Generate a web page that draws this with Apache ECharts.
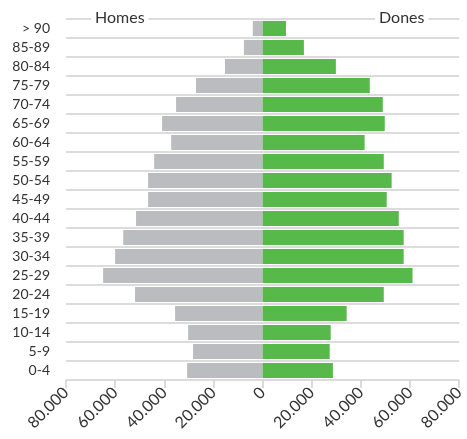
<!DOCTYPE html>
<html>
<head>
<meta charset="utf-8">
<script src="https://cdn.jsdelivr.net/npm/echarts@6/dist/echarts.min.js"></script>
<style>
  html, body { margin: 0; padding: 0; background: #fff; }
  #chart { width: 467px; height: 439px; }
</style>
</head>
<body>
<div id="chart"></div>
<script>
const ageGroups = ['> 90', '85-89', '80-84', '75-79', '70-74', '65-69', '60-64', '55-59', '50-54',
  '45-49', '40-44', '35-39', '30-34', '25-29', '20-24', '15-19', '10-14', '5-9', '0-4']
// homes shown on the left (negative side)
const homes = [4000, 7600, 15300, 27100, 35200, 40900, 37200, 44100, 46600,
  46600, 51500, 56700, 60000, 64900, 51900, 35600, 30300, 28300, 30700]
const dones = [9500, 16800, 29800, 43600, 48900, 49700, 41500, 49300, 52500,
  50500, 55400, 57400, 57400, 61000, 49300, 34200, 27700, 27300, 28600]
const axisTicks = [-80000, -60000, -40000, -20000, 0, 20000, 40000, 60000, 80000]

const font = 'Lato, "Open Sans", sans-serif'
const fmt = v => Math.abs(v).toLocaleString('de-DE')

const chart = echarts.init(document.getElementById('chart'))
chart.setOption({
  backgroundColor: '#fff',
  animation: false,
  grid: { left: 66, right: 7, top: 19, bottom: 59 },
  xAxis: {
    type: 'value',
    min: axisTicks[0],
    max: axisTicks[axisTicks.length - 1],
    interval: axisTicks[1] - axisTicks[0],
    axisLine: { show: false },
    axisTick: { show: true, length: 8, lineStyle: { color: '#d0d0d0', width: 1.5 } },
    splitLine: { show: false },
    axisLabel: {
      rotate: 45,
      formatter: fmt,
      color: '#333',
      fontSize: 16,
      fontFamily: font,
      margin: 10
    }
  },
  yAxis: {
    type: 'category',
    inverse: true,
    data: ageGroups,
    axisLine: { show: false },
    axisTick: { show: false },
    splitLine: { show: true, lineStyle: { color: '#dcdcdc', width: 2 } },
    axisLabel: { color: '#333', fontSize: 14, fontFamily: font, margin: 16 }
  },
  series: [
    {
      name: 'Homes',
      type: 'bar',
      stack: 'pop',
      barCategoryGap: '20%',
      itemStyle: { color: '#bbbcbf' },
      data: homes.map(v => -v)
    },
    {
      name: 'Dones',
      type: 'bar',
      stack: 'pop',
      barCategoryGap: '20%',
      itemStyle: { color: '#56b949' },
      data: dones
    }
  ],
  graphic: [
    {
      type: 'text', left: 91, top: 10, z: 100,
      style: { text: 'Homes', fill: '#333', fontSize: 16, fontFamily: font,
        backgroundColor: '#fff', padding: [0, 4] }
    },
    {
      type: 'text', left: 375, top: 10, z: 100,
      style: { text: 'Dones', fill: '#333', fontSize: 16, fontFamily: font,
        backgroundColor: '#fff', padding: [0, 4] }
    }
  ]
})
</script>
</body>
</html>
